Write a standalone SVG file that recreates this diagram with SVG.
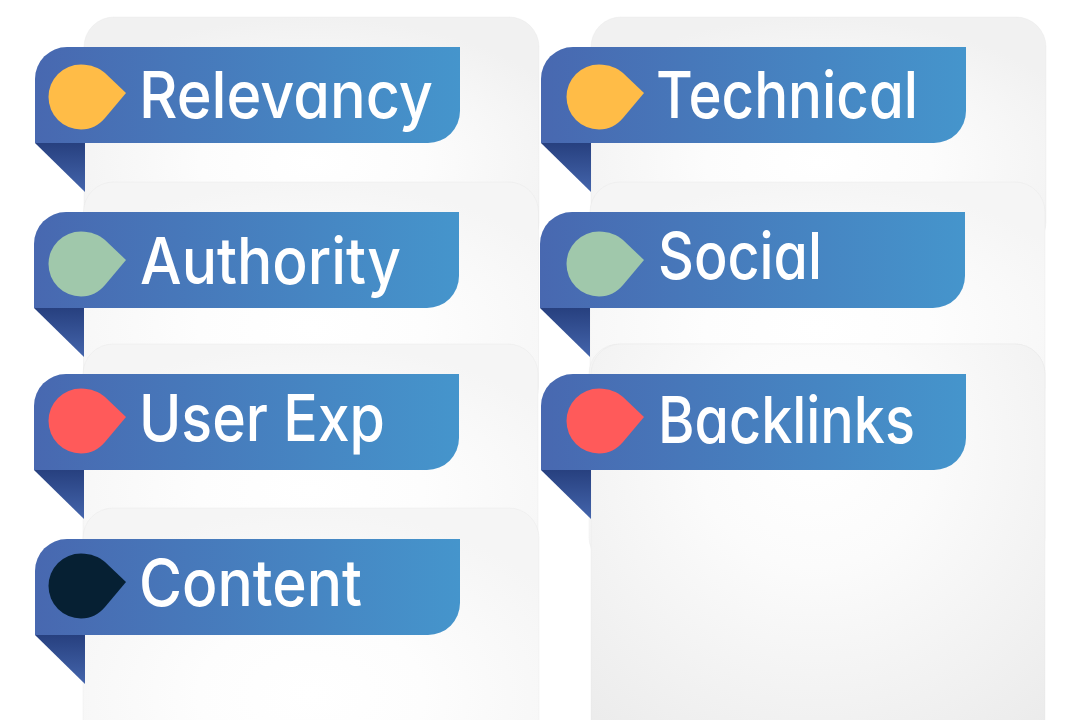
<svg xmlns="http://www.w3.org/2000/svg" width="1080" height="720" viewBox="0 0 1080 720">
<style>
.card{fill:url(#cardFill);stroke:#e2e2e2;stroke-opacity:.3;stroke-width:1}
.first{fill:url(#firstFill)}
.tall{fill:url(#tallFill)}
.ribbon{fill:url(#ribbonFill)}
.fold{fill:url(#foldFill)}
.label{font-family:"Inter","Liberation Sans",sans-serif;font-size:65px;fill:#fff;font-weight:500;font-feature-settings:"cv11" 1}
</style>
<defs>
<radialGradient id="cardFill" cx="0.5" cy="0.62" r="0.62"><stop offset="0" stop-color="#fff"/><stop offset="0.4" stop-color="#fdfdfd"/><stop offset="1" stop-color="#f5f5f5"/></radialGradient>
<radialGradient id="firstFill" cx="0.5" cy="0.62" r="0.62"><stop offset="0" stop-color="#fff"/><stop offset="0.4" stop-color="#fcfcfc"/><stop offset="1" stop-color="#f1f1f1"/></radialGradient>
<radialGradient id="tallFill" gradientUnits="userSpaceOnUse" cx="815" cy="450" r="390"><stop offset="0" stop-color="#fff"/><stop offset="0.3" stop-color="#fbfbfb"/><stop offset="1" stop-color="#e9e9e9"/></radialGradient>
<linearGradient id="ribbonFill" x1="0" y1="0" x2="1" y2="0"><stop offset="0" stop-color="#4868b0"/><stop offset="1" stop-color="#4595cc"/></linearGradient>
<linearGradient id="foldFill" x1="0" y1="0" x2="0" y2="1"><stop offset="0" stop-color="#27407f"/><stop offset="1" stop-color="#4465ac"/></linearGradient>
<g id="rib"><path class="ribbon" d="M0 96V32A32 32 0 0 1 32 0H425V64A32 32 0 0 1 393 96Z"/><path class="fold" d="M0 96H50V145Z"/></g>
<path id="drop" d="M0 -32.500C10 -32.500 18 -29 24 -24L45 -4L24 21C18 28 10 32.500 0 32.500A32.500 32.500 0 0 1 0 -32.500Z"/>
</defs>
<rect width="1080" height="720" fill="#fff"/>
<g id="cards">
<rect class="card first" x="84" y="17" width="455" height="235" rx="30"/>
<rect class="card" x="83.500" y="182" width="455" height="235" rx="30"/>
<rect class="card" x="83" y="344" width="455" height="235" rx="30"/>
<rect class="card" x="83" y="508" width="456" height="300" rx="30"/>
<rect class="card first" x="591" y="17" width="455" height="235" rx="30"/>
<rect class="card" x="590" y="182" width="455" height="235" rx="30"/>
<rect class="card" x="589" y="344" width="456" height="223" rx="30"/>
<rect class="card tall" x="591" y="344" width="454" height="420" rx="30"/>
</g>
<g id="connectors"/>
<g id="node-relevancy"><use href="#rib" x="35" y="47"/><use href="#drop" x="81" y="97" fill="#ffbc47"/><text class="label" x="139" y="118" textLength="294" lengthAdjust="spacingAndGlyphs">Relevancy</text></g>
<g id="node-authority"><use href="#rib" x="34" y="212"/><use href="#drop" x="81" y="264" fill="#a0c8ab"/><text class="label" x="140" y="284" textLength="261" lengthAdjust="spacingAndGlyphs">Authority</text></g>
<g id="node-userexp"><use href="#rib" x="34" y="374"/><use href="#drop" x="81" y="421" fill="#ff5a5a"/><text class="label" x="139" y="441" textLength="246" lengthAdjust="spacingAndGlyphs">User Exp</text></g>
<g id="node-content"><use href="#rib" x="35" y="539"/><use href="#drop" x="81" y="586" fill="#062033"/><text class="label" x="139" y="606" textLength="223" lengthAdjust="spacingAndGlyphs">Content</text></g>
<g id="node-technical"><use href="#rib" x="541" y="47"/><use href="#drop" x="599" y="97" fill="#ffbc47"/><text class="label" x="656" y="118" textLength="262" lengthAdjust="spacingAndGlyphs">Technical</text></g>
<g id="node-social"><use href="#rib" x="540" y="212"/><use href="#drop" x="599" y="264" fill="#a0c8ab"/><text class="label" x="658" y="279" textLength="164" lengthAdjust="spacingAndGlyphs">Social</text></g>
<g id="node-backlinks"><use href="#rib" x="541" y="374"/><use href="#drop" x="599" y="421" fill="#ff5a5a"/><text class="label" x="658" y="443" textLength="257" lengthAdjust="spacingAndGlyphs">Backlinks</text></g>
</svg>
